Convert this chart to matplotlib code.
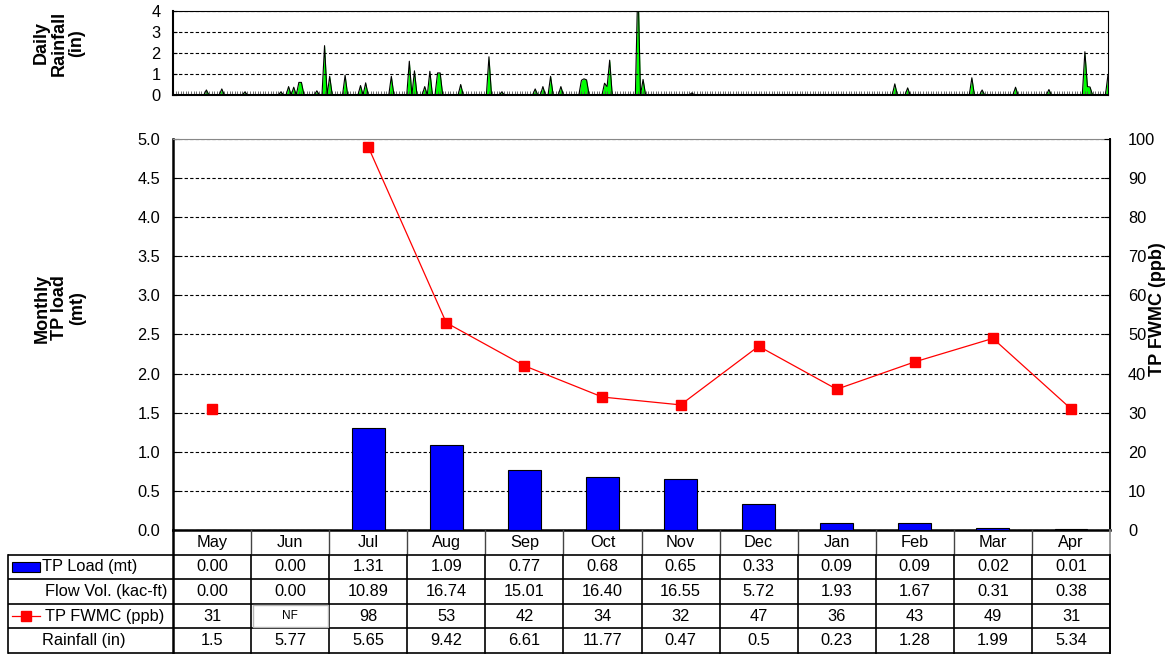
import numpy as np
import matplotlib.pyplot as plt
from matplotlib.patches import Rectangle
from matplotlib.ticker import FormatStrFormatter, MultipleLocator

plt.rcParams['font.family'] = ['Liberation Sans', 'DejaVu Sans']

# monthly summary, water year May-Apr
months = ['May', 'Jun', 'Jul', 'Aug', 'Sep', 'Oct', 'Nov', 'Dec', 'Jan', 'Feb', 'Mar', 'Apr']
tp_load = [0.00, 0.00, 1.31, 1.09, 0.77, 0.68, 0.65, 0.33, 0.09, 0.09, 0.02, 0.01]
flow_vol = [0.00, 0.00, 10.89, 16.74, 15.01, 16.40, 16.55, 5.72, 1.93, 1.67, 0.31, 0.38]
tp_fwmc = [31, None, 98, 53, 42, 34, 32, 47, 36, 43, 49, 31]   # None = no flow
rain_month = [1.5, 5.77, 5.65, 9.42, 6.61, 11.77, 0.47, 0.5, 0.23, 1.28, 1.99, 5.34]

# daily rainfall (day 0 = May 1), only the wet days
rain_days = [13, 19, 28, 42, 45, 47, 49, 50, 56, 59, 61, 67, 73, 75, 85, 92, 94, 98, 100,
             103, 104, 112, 123, 128, 141, 144, 147, 151, 159, 160, 161, 168, 169, 170,
             181, 183, 202, 281, 286, 311, 315, 328, 341, 355, 356, 357, 364]
rain_vals = [0.24, 0.29, 0.15, 0.15, 0.4, 0.37, 0.6, 0.6, 0.2, 2.35, 0.89, 0.94, 0.45, 0.58,
             0.89, 1.61, 1.15, 0.4, 1.13, 1.05, 1.05, 0.5, 1.82, 0.15, 0.29, 0.4, 0.89, 0.4,
             0.7, 0.77, 0.72, 0.56, 0.4, 1.66, 5.5, 0.74, 0.1, 0.53, 0.34, 0.82, 0.24, 0.37,
             0.26, 2.06, 0.4, 0.38, 0.97]

W, H = 1170, 654
fig = plt.figure(figsize=(W / 100, H / 100), dpi=100)


def px_axes(x0, y0, x1, y1):
    return fig.add_axes([x0 / W, 1 - y1 / H, (x1 - x0) / W, (y1 - y0) / H])


FS = 11.8
TITLE_FS = 13

# ---- daily rainfall panel ----
ax_r = px_axes(173, 11, 1108, 95)
ndays = 365
days = np.arange(ndays)
daily = np.zeros(ndays)
daily[rain_days] = rain_vals
ax_r.fill_between(days, daily, color='#00ff00', lw=0)
ax_r.plot(days, daily, color='black', lw=0.8)
ax_r.set_xlim(0, ndays - 1)
ax_r.set_ylim(0, 4)
ax_r.set_yticks(range(5))
ax_r.set_xticks([])
ax_r.xaxis.set_minor_locator(MultipleLocator(1))
ax_r.tick_params(axis='x', which='minor', direction='in', length=3, width=0.6, color='#555555')
ax_r.tick_params(axis='y', direction='in', length=3, labelsize=FS, pad=9)
ax_r.grid(axis='y', color='black', ls=(0, (3, 2)), lw=0.8)
for s in ax_r.spines.values():
    s.set_linewidth(0.8)
ax_r.spines['left'].set_linewidth(1.5)
ax_r.spines['bottom'].set_linewidth(1.5)

# ---- monthly TP load / FWMC panel ----
ax = px_axes(173, 139, 1110, 530)
x = np.arange(len(months))
bar_h = [v if c is not None else np.nan for v, c in zip(tp_load, tp_fwmc)]
ax.bar(x, bar_h, width=0.42, color='#0000ff', edgecolor='black', lw=0.8, zorder=3)
ax.set_xlim(-0.5, 11.5)
ax.set_ylim(0, 5)
ax.yaxis.set_major_locator(MultipleLocator(0.5))
ax.yaxis.set_major_formatter(FormatStrFormatter('%.1f'))
ax.set_xticks([])
ax.tick_params(axis='y', direction='in', length=4, labelsize=FS, pad=9)
ax.grid(axis='y', color='black', ls=(0, (3, 2)), lw=0.8, zorder=0)
ax.spines['left'].set_linewidth(1.8)
ax.spines['bottom'].set_linewidth(1.8)
ax.spines['top'].set_linewidth(0.8)
ax.spines['top'].set_color('#888888')

ax2 = ax.twinx()
conc = np.array([np.nan if c is None else c for c in tp_fwmc], dtype=float)
ax2.plot(x, conc, color='red', lw=0.9, marker='s', ms=7.5, mfc='red', mec='red', zorder=4)
ax2.set_ylim(0, 100)
ax2.yaxis.set_major_locator(MultipleLocator(10))
ax2.tick_params(axis='y', direction='in', length=4, labelsize=FS, pad=13)
ax2.spines['right'].set_linewidth(1.4)
ax2.spines['left'].set_visible(False)
ax2.spines['top'].set_visible(False)
ax2.spines['bottom'].set_visible(False)

fig.text(59 / W, 1 - 43 / H, 'Daily\nRainfall\n(in)', rotation=90, ha='center', va='center',
         fontsize=TITLE_FS, fontweight='bold', linespacing=1.05)
fig.text(60 / W, 1 - 308 / H, 'Monthly\nTP load\n(mt)', rotation=90, ha='center', va='center',
         fontsize=TITLE_FS, fontweight='bold', linespacing=1.05)
fig.text(1157 / W, 1 - 309 / H, 'TP FWMC (ppb)', rotation=90, ha='center', va='center',
         fontsize=TITLE_FS, fontweight='bold')

# ---- data table ----
tab = px_axes(8, 530, 1110, 653)
left = -0.5 - 165 / (937 / 12)
tab.set_xlim(left, 11.5)
tab.set_ylim(5, 0)
tab.axis('off')

lw_t = 1.2
for r in range(1, 6):
    tab.plot([left, 11.5], [r, r], color='black', lw=lw_t, solid_capstyle='butt', clip_on=False)
tab.plot([left, left], [1, 5], color='black', lw=lw_t, clip_on=False)
tab.plot([-0.5, -0.5], [0, 5], color='black', lw=1.8, clip_on=False)
for i in range(len(months) - 1):
    tab.plot([i + 0.5, i + 0.5], [0, 1], color='#444444', lw=1.0, clip_on=False)
    tab.plot([i + 0.5, i + 0.5], [1, 5], color='black', lw=lw_t, clip_on=False)
tab.plot([11.5, 11.5], [0, 1], color='#888888', lw=1.2, clip_on=False)
tab.plot([11.5, 11.5], [1, 5], color='black', lw=1.4, clip_on=False)

rows = [
    ['%.2f' % v for v in tp_load],
    ['%.2f' % v for v in flow_vol],
    ['NF' if v is None else '%d' % v for v in tp_fwmc],
    ['%g' % v for v in rain_month],
]
for i, m in enumerate(months):
    tab.text(i, 0.5, m, ha='center', va='center', fontsize=FS)
for r, vals in enumerate(rows, start=1):
    for i, s in enumerate(vals):
        if s == 'NF':
            tab.add_patch(Rectangle((i - 0.48, r + 0.04), 0.96, 0.92, facecolor='white',
                                    edgecolor='#b8b8b8', lw=1.0, zorder=3))
            tab.text(i, r + 0.5, s, ha='center', va='center', fontsize=8.5, zorder=4)
        else:
            tab.text(i, r + 0.5, s, ha='center', va='center', fontsize=FS)

# row labels with legend keys
key_x0 = left + 4 / 78
key_x1 = left + 32 / 78
tab.add_patch(Rectangle((key_x0, 1.3), key_x1 - key_x0, 0.4, facecolor='#0000ff',
                        edgecolor='black', lw=0.8))
tab.plot([key_x0, key_x1], [3.5, 3.5], color='red', lw=0.9)
tab.plot([(key_x0 + key_x1) / 2], [3.5], marker='s', ms=7, color='red')
tab.text(left + 34 / 78, 1.5, 'TP Load (mt)', ha='left', va='center', fontsize=FS)
tab.text(left + 37 / 78, 2.5, 'Flow Vol. (kac-ft)', ha='left', va='center', fontsize=FS)
tab.text(left + 37 / 78, 3.5, 'TP FWMC (ppb)', ha='left', va='center', fontsize=FS)
tab.text(left + 34 / 78, 4.5, 'Rainfall (in)', ha='left', va='center', fontsize=FS)

fig.savefig('out.png', dpi=100)
